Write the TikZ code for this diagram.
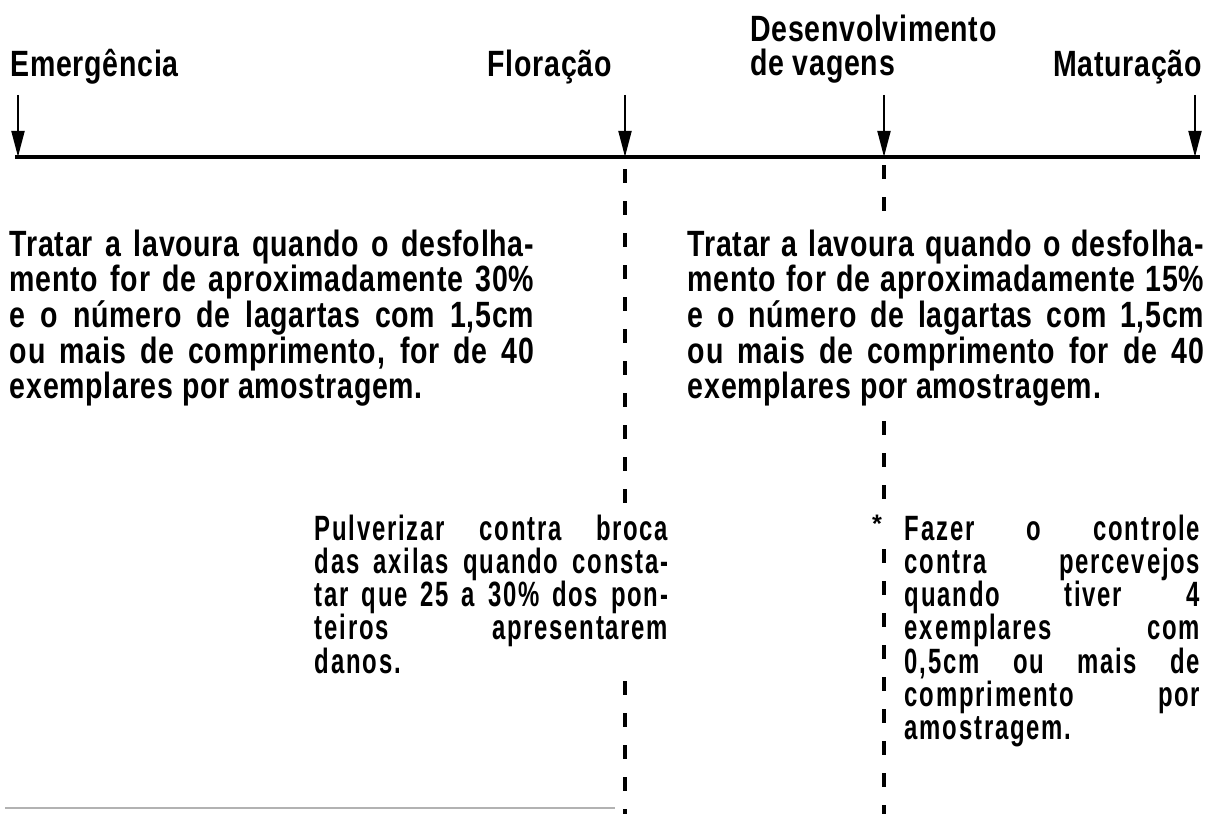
\documentclass[tikz,border=0pt]{standalone}
\usepackage{fontspec}
\setmainfont{Liberation Sans}
\newfontfamily\condfont{Liberation Sans}[FakeStretch=0.78, LetterSpace=2]
\newfontfamily\narrowfont{Liberation Sans}[FakeStretch=0.68, LetterSpace=5]
\usetikzlibrary{arrows.meta,positioning}

\newlength\blockw
\newcommand\jline[1]{\makebox[\blockw][s]{#1}}

\tikzset{
    axis/.style={line width=2.6pt},
    stage/.style={-{Triangle[length=0.65cm, width=0.32cm]}, line width=1.8pt},
    guide/.style={line width=2.4pt, dash pattern=on 0.35cm off 0.45cm},
    lbl/.style={font=\condfont\bfseries\fontsize{26}{24}\selectfont, inner sep=0pt},
    upper/.style={font=\condfont\bfseries\fontsize{26}{23.1}\selectfont, align=left, fill=white, inner sep=4pt, anchor=north west,
        execute at begin node={\setlength{\blockw}{#1}}},
    lower/.style={font=\narrowfont\bfseries\fontsize{25}{23.6}\selectfont, align=left, fill=white, inner sep=4pt, anchor=north west,
        execute at begin node={\setlength{\blockw}{#1}}}
}

\begin{document}
\begin{tikzpicture}[x=0.025cm, y=-0.025cm]
\useasboundingbox (0,0) rectangle (1206,814);

% stages on the time line
\coordinate (ax0) at (15,157);
\coordinate (ax1) at (1200,157);
\coordinate (emer) at (18,157);
\coordinate (flor) at (625,157);
\coordinate (vage) at (884,157);
\coordinate (matu) at (1195,157);
\coordinate (bot0) at (5,808);
\coordinate (bot1) at (615,808);

\node[lbl, anchor=base west] (lemer) at (10,77) {Emergência};
\node[lbl, anchor=base east] (lflor) at (612,77) {Floração};
\node[lbl, anchor=north west, align=left] (lvage) at (750,15) {Desenvolvimento\\de vagens};
\node[lbl, anchor=base east] (lmatu) at (1202,77) {Maturação};

\draw[axis] (ax0) -- (ax1);
\foreach \s in {emer,flor,vage,matu}
    \draw[stage] ([yshift=1.55cm]\s) -- (\s);

\draw[guide, dash phase=-0.3cm] (flor) -- (flor |- 0,814);
\draw[guide, dash phase=-0.2cm] (vage) -- (vage |- 0,814);
\draw[line width=2pt, gray!60] (bot0) -- (bot1);

% recommendations
\node[upper=13.1cm] (tratA) at (4,224) {%
\jline{Tratar a lavoura quando o desfolha-}\\
\jline{mento for de aproximadamente 30\%}\\
\jline{e o número de lagartas com 1,5cm}\\
\jline{ou mais de comprimento, for de 40}\\
exemplares por amostragem.};
\node[upper=12.9cm] (tratB) at (682,224) {%
\jline{Tratar a lavoura quando o desfolha-}\\
\jline{mento for de aproximadamente 15\%}\\
\jline{e o número de lagartas com 1,5cm}\\
\jline{ou mais de comprimento for de 40}\\
exemplares por amostragem.};
\node[lower=8.83cm] (pulv) at (309,509) {%
\jline{Pulverizar contra broca}\\
\jline{das axilas quando consta-}\\
\jline{tar que 25 a 30\% dos pon-}\\
\jline{teiros apresentarem}\\
danos.};
\node[lower=7.38cm] (fazer) at (899,509) {%
\jline{Fazer o controle}\\
\jline{contra percevejos}\\
\jline{quando tiver 4}\\
\jline{exemplares com}\\
\jline{0,5cm ou mais de}\\
\jline{comprimento por}\\
amostragem.};
\node[font=\bfseries\fontsize{18}{18}\selectfont, fill=white, inner sep=3pt] (star) at (877,524) {*};
\end{tikzpicture}
\end{document}
